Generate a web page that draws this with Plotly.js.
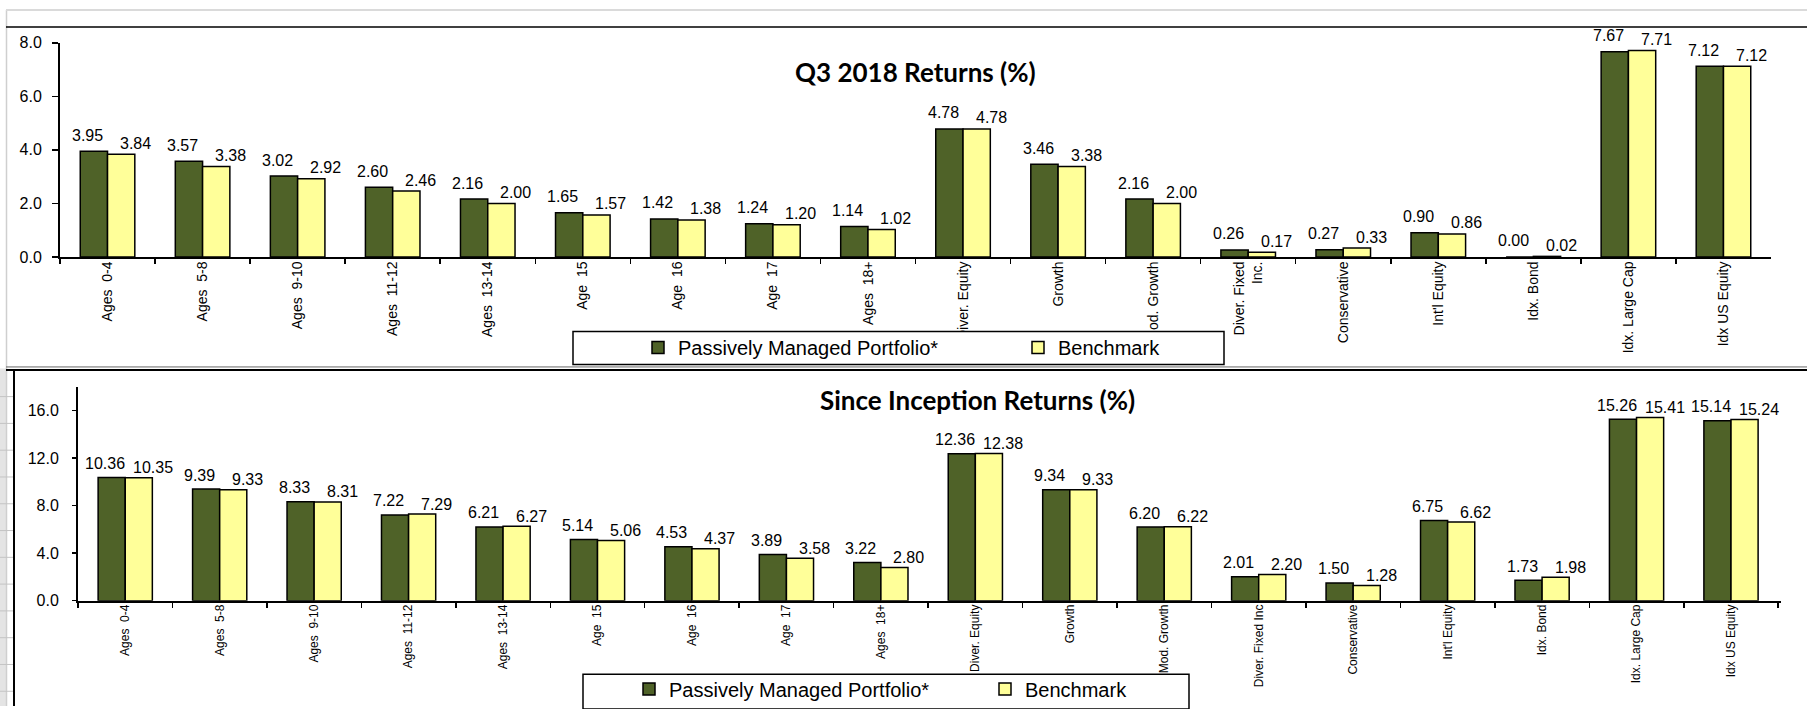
<!DOCTYPE html>
<html>
<head>
<meta charset="utf-8">
<script src="https://cdn.plot.ly/plotly-3.0.1.min.js"></script>
<style>
html,body{margin:0;padding:0;background:#fff;}
#chart{width:1807px;height:709px;}
</style>
</head>
<body>
<div id="chart"></div>
<script>
// ---------- DATA ----------
const categoriesQ3 = ["Ages  0-4","Ages  5-8","Ages  9-10","Ages  11-12","Ages  13-14","Age  15","Age  16","Age  17","Ages  18+","Diver. Equity","Growth","Mod. Growth","Diver. Fixed<br>Inc.","Conservative","Int'l Equity","Idx. Bond","Idx. Large Cap","Idx US Equity"];
const categoriesSI = ["Ages  0-4","Ages  5-8","Ages  9-10","Ages  11-12","Ages  13-14","Age  15","Age  16","Age  17","Ages  18+","Diver. Equity","Growth","Mod. Growth","Diver. Fixed Inc","Conservative","Int'l Equity","Idx. Bond","Idx. Large Cap","Idx US Equity"];
const passiveQ3 = [3.95,3.57,3.02,2.60,2.16,1.65,1.42,1.24,1.14,4.78,3.46,2.16,0.26,0.27,0.90,0.00,7.67,7.12];
const benchQ3   = [3.84,3.38,2.92,2.46,2.00,1.57,1.38,1.20,1.02,4.78,3.38,2.00,0.17,0.33,0.86,0.02,7.71,7.12];
const passiveSI = [10.36,9.39,8.33,7.22,6.21,5.14,4.53,3.89,3.22,12.36,9.34,6.20,2.01,1.50,6.75,1.73,15.26,15.14];
const benchSI   = [10.35,9.33,8.31,7.29,6.27,5.06,4.37,3.58,2.80,12.38,9.33,6.22,2.20,1.28,6.62,1.98,15.41,15.24];
const seriesNames = ["Passively Managed Portfolio*","Benchmark"];
const chartTitles = ["Q3 2018 Returns (%)","Since Inception Returns (%)"];

// ---------- STYLE ----------
const W = 1807, H = 709;
const px = x => x / W;
const py = y => 1 - y / H;
const GREEN = '#4F6228', YELLOW = '#FFFF99';
const FONT = 'Arial, "Liberation Sans", sans-serif';
const TITLEFONT = 'Lato, "Open Sans", sans-serif';

function barTrace(x, y, name, color, xa, ya, legend) {
  return {
    type: 'bar', x: x, y: y, name: name, xaxis: xa, yaxis: ya, legend: legend,
    marker: {color: color, line: {color: '#000', width: 1.5}},
    hoverinfo: 'skip', cliponaxis: false
  };
}

const traces = [
  barTrace(categoriesQ3, passiveQ3, seriesNames[0], GREEN, 'x', 'y', 'legend'),
  barTrace(categoriesQ3, benchQ3, seriesNames[1], YELLOW, 'x', 'y', 'legend'),
  barTrace(categoriesSI, passiveSI, seriesNames[0], GREEN, 'x2', 'y2', 'legend2'),
  barTrace(categoriesSI, benchSI, seriesNames[1], YELLOW, 'x2', 'y2', 'legend2')
];

function valueLabels(cats, vals, xref, yref, xshift, yshift) {
  return vals.map((v, i) => ({
    x: cats[i], y: v, xref: xref, yref: yref, text: v.toFixed(2),
    showarrow: false, xshift: xshift, yshift: yshift,
    xanchor: 'center', yanchor: 'middle',
    font: {family: FONT, size: 16, color: '#000'}
  }));
}

const annotations = [].concat(
  valueLabels(categoriesQ3, passiveQ3, 'x', 'y', -20, 16),
  valueLabels(categoriesQ3, benchQ3, 'x', 'y', 28, 11),
  valueLabels(categoriesSI, passiveSI, 'x2', 'y2', -20, 14),
  valueLabels(categoriesSI, benchSI, 'x2', 'y2', 28, 10),
  [
    {xref: 'paper', yref: 'paper', x: px(915), y: py(72), text: '<b>' + chartTitles[0] + '</b>',
     showarrow: false, xanchor: 'center', yanchor: 'middle', font: {family: TITLEFONT, size: 26, color: '#000'}},
    {xref: 'paper', yref: 'paper', x: px(977), y: py(402), text: '<b>' + chartTitles[1] + '</b>',
     showarrow: false, xanchor: 'center', yanchor: 'middle', font: {family: TITLEFONT, size: 26, color: '#000'}}
  ]
);

function hline(x0, x1, y, color, width) {
  return {type: 'line', xref: 'paper', yref: 'paper', x0: px(x0), x1: px(x1), y0: py(y), y1: py(y),
          line: {color: color, width: width}, layer: 'above'};
}
function vline(x, y0, y1, color, width) {
  return {type: 'line', xref: 'paper', yref: 'paper', x0: px(x), x1: px(x), y0: py(y0), y1: py(y1),
          line: {color: color, width: width}, layer: 'above'};
}
function box(x0, x1, y0, y1) {
  return {type: 'rect', xref: 'paper', yref: 'paper', x0: px(x0), x1: px(x1), y0: py(y0), y1: py(y1),
          fillcolor: '#fff', line: {color: '#000', width: 1.5}, layer: 'above'};
}

const shapes = [
  {type: 'rect', xref: 'paper', yref: 'paper', x0: 0, x1: px(6), y0: 0, y1: py(370),
   fillcolor: '#E4E4E4', line: {width: 0}, layer: 'below'},
  vline(6.5, 10, 709, '#CFCFCF', 1.5),
  hline(6, 1807, 10, '#DADADA', 2),
  hline(6, 1807, 27, '#000', 1.5),
  hline(6, 1807, 368.5, '#666', 1),
  hline(6, 1807, 371.5, '#000', 2),
  vline(14, 371, 709, '#000', 2),
  box(573, 1224, 333, 366),
  box(583, 1189, 677, 712)
];
for (let y = 398.3; y < 709; y += 26.9) {
  shapes.push(hline(0, 13, y, '#C4C4C4', 1));
}

const xBase = {
  type: 'category', tickson: 'boundaries', ticks: 'outside', ticklen: 5, tickwidth: 1.5, tickcolor: '#000',
  showline: true, linecolor: '#000', linewidth: 2, tickangle: -90, showgrid: false, zeroline: false,
  fixedrange: true, ticklabelstandoff: -3
};
const yBase = {
  ticks: 'outside', tickwidth: 1.5, tickcolor: '#000', showline: true, linecolor: '#000', linewidth: 2,
  showgrid: false, zeroline: false, tickformat: '.1f', fixedrange: true,
  tickfont: {family: FONT, size: 16, color: '#000'}
};

const legendBase = {
  orientation: 'h', xanchor: 'left', yanchor: 'middle', bgcolor: 'rgba(0,0,0,0)', borderwidth: 0,
  font: {family: FONT, size: 20, color: '#000'}, entrywidthmode: 'pixels', traceorder: 'normal'
};

const layout = {
  width: W, height: H,
  margin: {l: 0, r: 0, t: 0, b: 0, pad: 0},
  paper_bgcolor: '#fff', plot_bgcolor: 'rgba(0,0,0,0)',
  barmode: 'group', bargap: 0.426, bargroupgap: 0,
  showlegend: true,
  xaxis: Object.assign({}, xBase, {domain: [px(60), px(1771)], anchor: 'y',
    tickfont: {family: FONT, size: 14, color: '#000'}}),
  yaxis: Object.assign({}, yBase, {domain: [py(258), py(43)], anchor: 'x', range: [0, 8], dtick: 2,
    ticklen: 6, ticklabelstandoff: 7}),
  xaxis2: Object.assign({}, xBase, {domain: [px(78), px(1781)], anchor: 'y2',
    tickfont: {family: FONT, size: 12, color: '#000'}}),
  yaxis2: Object.assign({}, yBase, {domain: [py(603.3), py(388.3)], anchor: 'x2', range: [0, 18], dtick: 4, tick0: 0,
    ticklen: 4, ticklabelstandoff: 10}),
  legend: Object.assign({}, legendBase, {x: px(638), y: py(349), entrywidth: 335}),
  legend2: Object.assign({}, legendBase, {x: px(629), y: py(692), entrywidth: 311}),
  annotations: annotations,
  shapes: shapes
};

Plotly.newPlot('chart', traces, layout, {displayModeBar: false, staticPlot: true});
</script>
</body>
</html>
